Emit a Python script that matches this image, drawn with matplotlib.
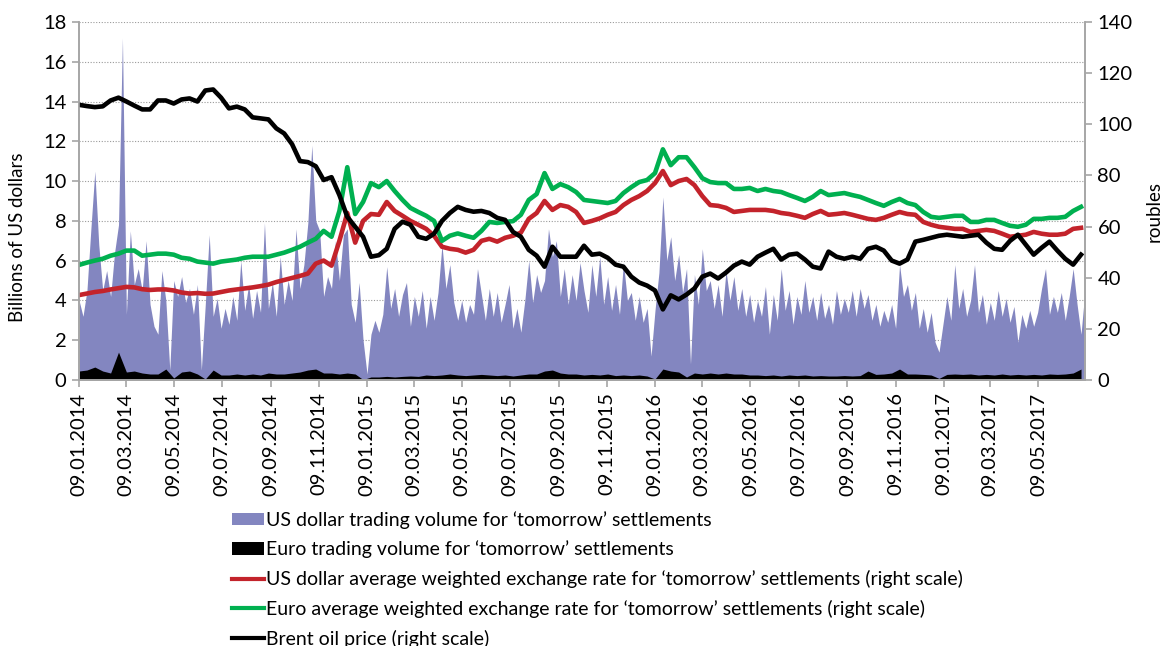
import matplotlib
matplotlib.use("Agg")
import matplotlib.pyplot as plt
import matplotlib.dates as mdates
from matplotlib.patches import Patch
from matplotlib.lines import Line2D
import pandas as pd

plt.rcParams["font.family"] = ["Lato", "DejaVu Sans"]

# exchange rates, oil and euro volume: every 10 days from 09.01.2014
rate_dates = pd.date_range("2014-01-09", periods=128, freq="10D")

usd_rate = [
    33.2, 33.8, 34.4, 34.8, 35.4, 35.9, 36.4, 36.2, 35.5, 35.2,
    35.4, 35.4, 35.0, 34.2, 33.8, 34.0, 33.7, 33.8, 34.4, 35.0,
    35.4, 35.8, 36.2, 36.7, 37.3, 38.3, 39.1, 39.9, 40.7, 41.6,
    45.5, 46.7, 44.7, 54.4, 65.3, 53.7, 62.2, 64.9, 64.6, 69.6,
    66.1, 64.2, 62.2, 60.7, 59.1, 56.4, 52.1, 51.3, 50.9, 49.8,
    50.9, 54.4, 55.2, 54.1, 55.6, 56.4, 57.6, 63.0, 65.3, 70.0,
    66.5, 68.4, 67.7, 65.7, 61.4, 62.2, 63.2, 64.6, 65.7, 68.4,
    70.4, 71.9, 73.9, 77.0, 81.7, 76.2, 77.8, 78.6, 76.2, 71.9,
    68.4, 68.1, 67.3, 65.7, 66.1, 66.5, 66.5, 66.5, 66.1, 65.3,
    64.9, 64.2, 63.4, 64.9, 66.1, 64.6, 64.9, 65.3, 64.6, 63.8,
    63.0, 62.6, 63.4, 64.6, 65.7, 64.9, 64.6, 61.8, 60.7, 59.9,
    59.5, 59.1, 59.1, 57.9, 58.3, 58.7, 58.3, 57.2, 56.0, 56.4,
    56.8, 57.9, 57.2, 56.8, 56.8, 57.2, 59.1, 59.5,
]

eur_rate = [
    45.0, 45.9, 46.7, 47.4, 48.6, 49.4, 50.6, 50.6, 48.6, 49.0,
    49.4, 49.4, 49.0, 47.8, 47.4, 46.3, 45.9, 45.5, 46.3, 46.7,
    47.1, 47.8, 48.2, 48.2, 48.2, 49.0, 49.8, 50.9, 52.1, 53.7,
    55.2, 58.3, 56.0, 66.1, 83.2, 64.9, 69.6, 77.0, 75.4, 77.8,
    73.9, 70.4, 67.3, 65.7, 64.2, 62.2, 54.4, 56.4, 57.3, 56.4,
    55.6, 58.3, 61.8, 61.4, 61.8, 62.1, 64.6, 70.4, 72.7, 80.9,
    74.7, 76.6, 75.4, 73.5, 70.4, 70.0, 69.6, 69.2, 70.0, 73.1,
    75.4, 77.4, 78.2, 80.9, 90.2, 84.0, 87.1, 87.1, 83.2, 78.9,
    77.4, 77.0, 77.0, 74.7, 74.7, 75.1, 73.9, 74.7, 73.9, 73.5,
    72.3, 71.2, 70.0, 71.6, 73.9, 72.3, 72.7, 73.1, 72.3, 71.6,
    70.4, 69.2, 68.1, 69.6, 70.8, 69.2, 68.4, 65.7, 63.8, 63.4,
    63.8, 64.2, 64.2, 61.8, 61.8, 62.6, 62.6, 61.4, 60.3, 59.9,
    60.7, 63.0, 63.0, 63.4, 63.4, 63.8, 66.1, 67.7,
]

brent = [
    107.6, 107.1, 106.7, 107.0, 109.3, 110.4, 108.9, 107.3, 105.8, 105.8,
    109.3, 109.3, 108.1, 109.7, 110.1, 108.9, 113.2, 113.6, 110.4, 106.2,
    106.9, 105.8, 102.7, 102.3, 101.9, 98.4, 96.4, 92.2, 85.6, 85.2,
    83.6, 78.2, 79.3, 72.3, 63.8, 59.9, 56.0, 48.2, 48.8, 51.3,
    59.1, 61.9, 60.7, 56.0, 55.2, 57.2, 62.2, 65.3, 67.7, 66.5,
    65.8, 66.1, 65.3, 63.4, 62.6, 57.9, 56.0, 50.9, 48.6, 44.3,
    52.1, 48.2, 48.2, 48.2, 52.5, 49.0, 49.4, 47.8, 45.1, 44.3,
    40.4, 38.1, 36.9, 35.0, 27.6, 33.1, 31.5, 33.4, 35.8, 40.4,
    41.6, 39.7, 42.0, 44.7, 46.3, 45.1, 48.2, 49.8, 51.3, 47.1,
    49.0, 49.4, 47.1, 44.3, 43.6, 50.2, 48.2, 47.4, 48.2, 47.4,
    51.3, 52.1, 50.6, 46.7, 45.5, 47.1, 54.1, 54.8, 55.6, 56.4,
    56.8, 56.4, 56.0, 56.4, 56.8, 53.7, 51.3, 50.9, 54.4, 56.8,
    52.9, 49.0, 51.7, 54.1, 50.6, 47.4, 45.1, 49.0,
]

eur_volume = [
    0.45, 0.5, 0.65, 0.45, 0.35, 1.4, 0.4, 0.45, 0.35, 0.3,
    0.3, 0.55, 0.1, 0.4, 0.45, 0.3, 0.05, 0.5, 0.25, 0.25,
    0.3, 0.25, 0.3, 0.25, 0.35, 0.3, 0.3, 0.35, 0.4, 0.5,
    0.55, 0.35, 0.35, 0.3, 0.35, 0.3, 0.02, 0.15, 0.15, 0.18,
    0.15, 0.18, 0.2, 0.18, 0.25, 0.22, 0.25, 0.3, 0.25, 0.22,
    0.25, 0.28, 0.25, 0.22, 0.25, 0.2, 0.25, 0.3, 0.3, 0.45,
    0.5, 0.35, 0.3, 0.3, 0.25, 0.28, 0.25, 0.3, 0.22, 0.25,
    0.22, 0.25, 0.2, 0.05, 0.55, 0.45, 0.4, 0.15, 0.35, 0.3,
    0.35, 0.3, 0.35, 0.3, 0.3, 0.25, 0.25, 0.22, 0.25, 0.2,
    0.25, 0.22, 0.25, 0.2, 0.22, 0.2, 0.2, 0.22, 0.2, 0.22,
    0.45, 0.28, 0.3, 0.35, 0.55, 0.3, 0.3, 0.28, 0.25, 0.08,
    0.28, 0.3, 0.28, 0.3, 0.25, 0.28, 0.25, 0.3, 0.25, 0.28,
    0.25, 0.28, 0.25, 0.3, 0.28, 0.3, 0.35, 0.55,
]

# US dollar volume: every 5 days from 09.01.2014
vol_dates = pd.date_range("2014-01-09", periods=256, freq="5D")
usd_volume = [
    4.0, 3.2, 4.5, 7.6, 10.5, 6.8, 4.5, 5.5, 4.2, 6.4,
    7.8, 17.2, 3.3, 7.5, 4.8, 5.6, 4.5, 7.0, 3.8, 2.7,
    2.3, 5.5, 4.0, 0.5, 5.0, 4.2, 5.2, 3.9, 4.6, 3.3,
    4.8, 0.5, 3.8, 7.3, 3.2, 4.1, 2.6, 3.6, 2.8, 4.2,
    3.0, 6.0, 3.5, 4.8, 3.1, 4.5, 3.4, 7.9, 3.6, 4.9,
    3.2, 6.2, 3.8, 5.0, 4.0, 7.6, 4.6, 5.8, 7.9, 11.8,
    8.0, 7.5, 4.2, 5.2, 4.6, 7.0, 5.0, 7.3, 7.6, 3.8,
    2.9, 4.9, 2.0, 0.3, 2.3, 3.0, 2.4, 3.3, 5.7, 3.6,
    4.6, 3.2, 4.3, 4.9, 2.7, 4.2, 3.2, 4.5, 2.6, 4.2,
    3.0, 4.4, 6.8, 4.6, 5.8, 3.9, 3.0, 4.0, 2.9, 3.8,
    3.3, 5.6, 4.3, 3.0, 4.6, 3.2, 4.4, 2.9, 3.8, 4.8,
    2.6, 3.6, 2.4, 4.0, 6.0, 3.9, 5.3, 4.4, 5.0, 7.6,
    6.2, 7.0, 4.2, 5.6, 3.8, 5.3, 4.0, 5.9, 4.5, 3.4,
    5.8, 4.2, 6.2, 3.8, 5.2, 3.5, 4.8, 3.3, 5.9, 4.0,
    4.4, 3.0, 4.2, 2.9, 3.6, 1.2, 3.5, 5.4, 9.2, 6.0,
    7.2, 5.0, 6.3, 4.4, 5.6, 0.8, 5.3, 3.8, 6.6, 4.5,
    5.0, 3.6, 4.8, 3.2, 5.5, 4.0, 5.2, 3.5, 4.6, 3.2,
    4.3, 2.9, 4.0, 3.2, 4.7, 2.3, 4.3, 3.0, 5.6, 3.5,
    4.5, 2.8, 4.2, 3.3, 5.0, 3.4, 4.2, 3.0, 4.4, 3.1,
    3.8, 2.8, 4.5, 3.3, 4.1, 3.4, 4.5, 3.2, 4.6, 3.6,
    4.3, 3.0, 3.8, 2.7, 3.5, 2.9, 3.8, 2.6, 5.8, 4.2,
    4.8, 3.5, 4.4, 2.6, 3.6, 2.4, 3.4, 1.9, 1.4, 2.8,
    4.2, 3.0, 5.8, 3.6, 4.6, 3.2, 4.0, 5.8, 3.4, 4.3,
    2.8, 3.9, 3.0, 4.5, 3.2, 4.1, 2.9, 3.7, 1.9, 3.3,
    2.6, 3.5, 2.7, 3.4, 4.6, 5.6, 3.3, 4.2, 3.4, 4.4,
    3.0, 4.2, 5.6, 3.8, 2.3, 4.5,
]

tick_dates = pd.date_range("2014-01-01", periods=21, freq="2MS") + pd.Timedelta(days=8)

labels = [
    "US dollar trading volume for \u2018tomorrow\u2019 settlements",
    "Euro trading volume for \u2018tomorrow\u2019 settlements",
    "US dollar average weighted exchange rate for \u2018tomorrow\u2019 settlements (right scale)",
    "Euro average weighted exchange rate for \u2018tomorrow\u2019 settlements (right scale)",
    "Brent oil price (right scale)",
]

BLUE = "#8386C0"
RED = "#C3232B"
GREEN = "#00B050"
GREY = "#A6A6A6"

fig = plt.figure(figsize=(11.66, 6.46), dpi=100)
ax1 = fig.add_axes([0.0678, 0.4118, 0.8627, 0.5542])
ax2 = ax1.twinx()

ax1.fill_between(vol_dates, usd_volume, color=BLUE, lw=0)
ax1.fill_between(rate_dates, eur_volume, color="black", lw=0)

ax2.plot(rate_dates, usd_rate, color=RED, lw=3.3)
ax2.plot(rate_dates, eur_rate, color=GREEN, lw=3.3)
ax2.plot(rate_dates, brent, color="black", lw=3.3)

ax1.set_xlim(pd.Timestamp("2014-01-09"), pd.Timestamp("2017-07-07"))
ax1.set_ylim(0, 18)
ax1.set_yticks(range(0, 19, 2))
ax2.set_ylim(0, 140)
ax2.set_yticks(range(0, 141, 20))

ax1.set_xticks(tick_dates)
ax1.xaxis.set_major_formatter(mdates.DateFormatter("%d.%m.%Y"))
ax1.tick_params(axis="x", rotation=90)

ax1.set_axisbelow(True)
ax1.grid(axis="y", color="#9A9A9A", linestyle=(0, (1, 1.5)), lw=0.8)

for ax in (ax1, ax2):
    ax.spines["top"].set_visible(False)
    for s in ("left", "right", "bottom"):
        ax.spines[s].set_color(GREY)
        ax.spines[s].set_linewidth(1.2)
    ax.tick_params(colors=GREY, labelcolor="black", labelsize=14.5, length=5, width=1.2,
                   direction="out", pad=4)

fig.text(18 / 1166, 1 - 237 / 646, "Billions of US dollars", rotation=90,
         ha="center", va="center", fontsize=13.5)
fig.text(1154 / 1166, 1 - 211 / 646, "roubles", rotation=90,
         ha="center", va="center", fontsize=13.5)

handles = [
    Patch(facecolor=BLUE, edgecolor="none"),
    Patch(facecolor="black", edgecolor="none"),
    Line2D([], [], color=RED, lw=3),
    Line2D([], [], color=GREEN, lw=3),
    Line2D([], [], color="black", lw=3),
]
fig.legend(handles, labels, loc="upper left", bbox_to_anchor=(232 / 1166, 1 - 511 / 646),
           frameon=False, fontsize=14, handlelength=1.65, handleheight=0.6,
           handletextpad=0.12, labelspacing=0.6, borderpad=0, borderaxespad=0)

fig.savefig("out.png", dpi=100)
